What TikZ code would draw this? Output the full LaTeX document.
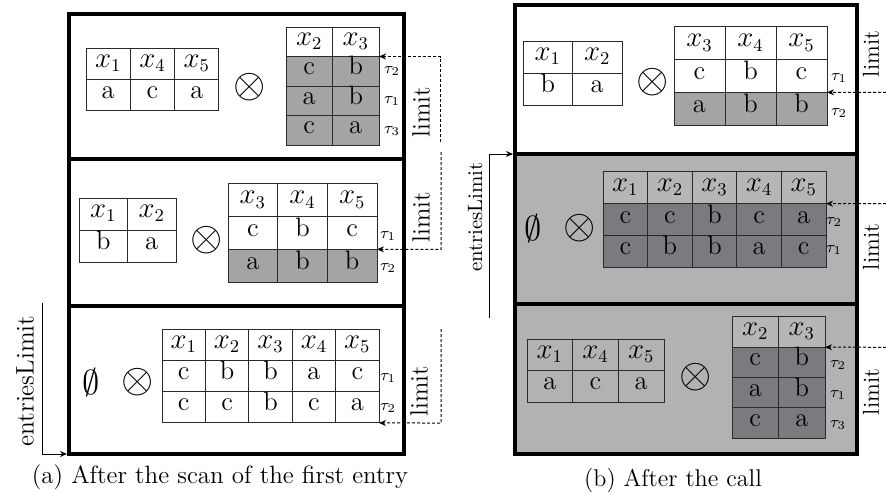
\documentclass[tikz,border=0pt]{standalone}
\usetikzlibrary{arrows.meta}
\definecolor{lightcell}{HTML}{A4A4A7}
\definecolor{bggray}{HTML}{B2B2B5}
\definecolor{headgray}{HTML}{B6B6B9}
\definecolor{darkcell}{HTML}{7A7A7F}
\definecolor{tabline}{HTML}{2A2A2A}
\tikzset{
  x=0.5pt, y=-0.5pt,
  frame/.style={draw=black, line width=2pt, inner sep=0pt},
  cell/.style={draw=tabline, line width=0.5pt, inner sep=0pt, outer sep=0pt,
    font=\fontsize{13.3}{15}\selectfont, text height=0.6em, text depth=0.25em},
  taulab/.style={font=\fontsize{8}{9}\selectfont, inner sep=0pt},
  limL/.style={rotate=90, font=\fontsize{12.5}{14}\selectfont, inner sep=0pt},
  limR/.style={rotate=90, font=\fontsize{11.5}{13}\selectfont, inner sep=0pt},
  op/.style={font=\fontsize{20}{24}\selectfont, inner sep=0pt},
  emp/.style={font=\fontsize{16.5}{20}\selectfont, inner sep=0pt},
  conn/.style={line width=0.5pt, -{Stealth[length=3.5pt,width=3pt]}},
  dconn/.style={conn, dash pattern=on 1.5pt off 1pt},
  capt/.style={inner sep=0pt},
}
% #1 name, #2 row index, #3 x0, #4 y centre, #5 column width, #6 row height, #7 fill, #8 entries
\newcommand\trow[8]{%
  \foreach \t [count=\c from 0] in {#8} {
    \node[cell, fill=#7, minimum width=#5*0.5pt, minimum height=#6*0.5pt]
      (#1-#2-\c) at ({#3+(\c+0.5)*#5},#4) {\t};
  }}
\begin{document}
\begin{tikzpicture}
\useasboundingbox (0,0) rectangle (886,493);

% ================= LEFT PANEL =================
\node[frame, minimum width=167.5pt, minimum height=72.5pt] (A1box) at (236.5,86.5) {};
\node[frame, minimum width=167.5pt, minimum height=73.5pt] (A2box) at (236.5,232.5) {};
\node[frame, minimum width=167.5pt, minimum height=74pt] (A3box) at (236.5,380) {};

% box A1
\trow{A1L}{0}{86}{63.5}{44.33}{31}{white}{$x_1$,$x_4$,$x_5$}
\trow{A1L}{1}{86}{94.5}{44.33}{31}{white}{a,c,a}
\node[op] (A1x) at (250,87) {$\otimes$};
\trow{A1R}{0}{286}{41.75}{46.5}{29.5}{white}{$x_2$,$x_3$}
\trow{A1R}{1}{286}{71.25}{46.5}{29.5}{lightcell}{c,b}
\trow{A1R}{2}{286}{100.75}{46.5}{29.5}{lightcell}{a,b}
\trow{A1R}{3}{286}{130.25}{46.5}{29.5}{lightcell}{c,a}
\node[taulab] (A1t2) at (392,71) {$\tau_2$};
\node[taulab] (A1t1) at (392,101) {$\tau_1$};
\node[taulab] (A1t3) at (392,131) {$\tau_3$};
\coordinate (A1b) at (440,142);
\coordinate (A1c) at (440,56.5);
\draw[dconn] (A1b) -- (A1c) -- (A1R-0-1.south east);
\node[limL] (A1lim) at (421,112) {limit};

% box A2
\trow{A2L}{0}{79}{214}{48.5}{32}{white}{$x_1$,$x_2$}
\trow{A2L}{1}{79}{246}{48.5}{32}{white}{b,a}
\node[op] (A2x) at (207,240) {$\otimes$};
\trow{A2R}{0}{228}{200.3}{49.67}{32.67}{white}{$x_3$,$x_4$,$x_5$}
\trow{A2R}{1}{228}{233}{49.67}{32.67}{white}{c,b,c}
\trow{A2R}{2}{228}{265.7}{49.67}{32.67}{lightcell}{a,b,b}
\node[taulab] (A2t1) at (388,236) {$\tau_1$};
\node[taulab] (A2t2) at (388,268) {$\tau_2$};
\coordinate (A2b) at (441,152);
\coordinate (A2c) at (441,249.3);
\draw[dconn] (A2b) -- (A2c) -- (A2R-1-2.south east);
\node[limL] (A2lim) at (421,217) {limit};

% box A3
\node[emp] (A3e) at (91,382) {$\emptyset$};
\node[op] (A3x) at (138,382) {$\otimes$};
\trow{A3T}{0}{162}{344.7}{43.4}{31.33}{white}{$x_1$,$x_2$,$x_3$,$x_4$,$x_5$}
\trow{A3T}{1}{162}{376}{43.4}{31.33}{white}{c,b,b,a,c}
\trow{A3T}{2}{162}{407.3}{43.4}{31.33}{white}{c,c,b,c,a}
\node[taulab] (A3t1) at (388,378) {$\tau_1$};
\node[taulab] (A3t2) at (388,408) {$\tau_2$};
\coordinate (A3b) at (441,329);
\coordinate (A3c) at (441,423);
\draw[dconn] (A3b) -- (A3c) -- (A3T-2-4.south east);
\node[limL] (A3lim) at (419,391) {limit};

% entriesLimit (left)
\coordinate (EL1) at (42,303);
\coordinate (EL1c) at (42,454);
\draw[conn] (EL1) -- (EL1c) -- (EL1c -| A3box.west);
\node[rotate=90, font=\fontsize{12.7}{15}\selectfont, inner sep=0pt] (ELlab) at (25,381) {entriesLimit};

\node[capt, font=\fontsize{12.5}{15}\selectfont] (capa) at (220,477) {(a) After the scan of the first entry};

% ================= RIGHT PANEL =================
\node[frame, fill=white, minimum width=171pt, minimum height=74.5pt] (B1box) at (686,79.5) {};
\node[frame, fill=bggray, minimum width=171pt, minimum height=75pt] (B2box) at (686,229) {};
\node[frame, fill=bggray, minimum width=171pt, minimum height=75pt] (B3box) at (686,379) {};

% box B1
\trow{B1L}{0}{523}{57}{49.5}{32}{white}{$x_1$,$x_2$}
\trow{B1L}{1}{523}{89}{49.5}{32}{white}{b,a}
\node[op] (B1x) at (653,82) {$\otimes$};
\trow{B1R}{0}{674}{43.3}{51}{32.67}{white}{$x_3$,$x_4$,$x_5$}
\trow{B1R}{1}{674}{76}{51}{32.67}{white}{c,b,c}
\trow{B1R}{2}{674}{108.7}{51}{32.67}{lightcell}{a,b,b}
\node[taulab] (B1t1) at (839,78) {$\tau_1$};
\node[taulab] (B1t2) at (839,113) {$\tau_2$};
\coordinate (B1c) at (896,92.33);
\draw[dconn] (B1c) -- (B1R-1-2.south east);
\node[limR] (B1lim) at (871,54) {limit};

% box B2
\node[emp] (B2e) at (533,228) {$\emptyset$};
\node[op] (B2x) at (580,228) {$\otimes$};
\trow{B2T}{0}{603}{187.8}{44.6}{31.67}{headgray}{$x_1$,$x_2$,$x_3$,$x_4$,$x_5$}
\trow{B2T}{1}{603}{219.5}{44.6}{31.67}{darkcell}{c,c,b,c,a}
\trow{B2T}{2}{603}{251.2}{44.6}{31.67}{darkcell}{c,b,b,a,c}
\node[taulab] (B2t2) at (834,222) {$\tau_2$};
\node[taulab] (B2t1) at (834,250) {$\tau_1$};
\coordinate (B2c) at (896,203.67);
\draw[dconn] (B2c) -- (B2T-0-4.south east);
\node[limR] (B2lim) at (871,247) {limit};

% box B3
\trow{B3L}{0}{527}{354.75}{45.67}{31.5}{bggray}{$x_1$,$x_4$,$x_5$}
\trow{B3L}{1}{527}{386.25}{45.67}{31.5}{bggray}{a,c,a}
\node[op] (B3x) at (696,377) {$\otimes$};
\trow{B3R}{0}{732}{332.1}{46.5}{30.25}{headgray}{$x_2$,$x_3$}
\trow{B3R}{1}{732}{362.4}{46.5}{30.25}{darkcell}{c,b}
\trow{B3R}{2}{732}{392.6}{46.5}{30.25}{darkcell}{a,b}
\trow{B3R}{3}{732}{422.9}{46.5}{30.25}{darkcell}{c,a}
\node[taulab] (B3t2) at (838,365) {$\tau_2$};
\node[taulab] (B3t1) at (838,395) {$\tau_1$};
\node[taulab] (B3t3) at (838,425) {$\tau_3$};
\coordinate (B3c) at (896,347.25);
\draw[dconn] (B3c) -- (B3R-0-1.south east);
\node[limR] (B3lim) at (871,392) {limit};

% entriesLimit (right)
\coordinate (ER1) at (489,318);
\coordinate (ER1c) at (489,154);
\draw[conn] (ER1) -- (ER1c) -- (ER1c -| B2box.west);
\node[rotate=90, font=\fontsize{10.4}{12}\selectfont, inner sep=0pt] (ERlab) at (475,217) {entriesLimit};

\node[capt, font=\fontsize{12.1}{14}\selectfont] (capb) at (673,480) {(b) After the call};
\end{tikzpicture}
\end{document}
